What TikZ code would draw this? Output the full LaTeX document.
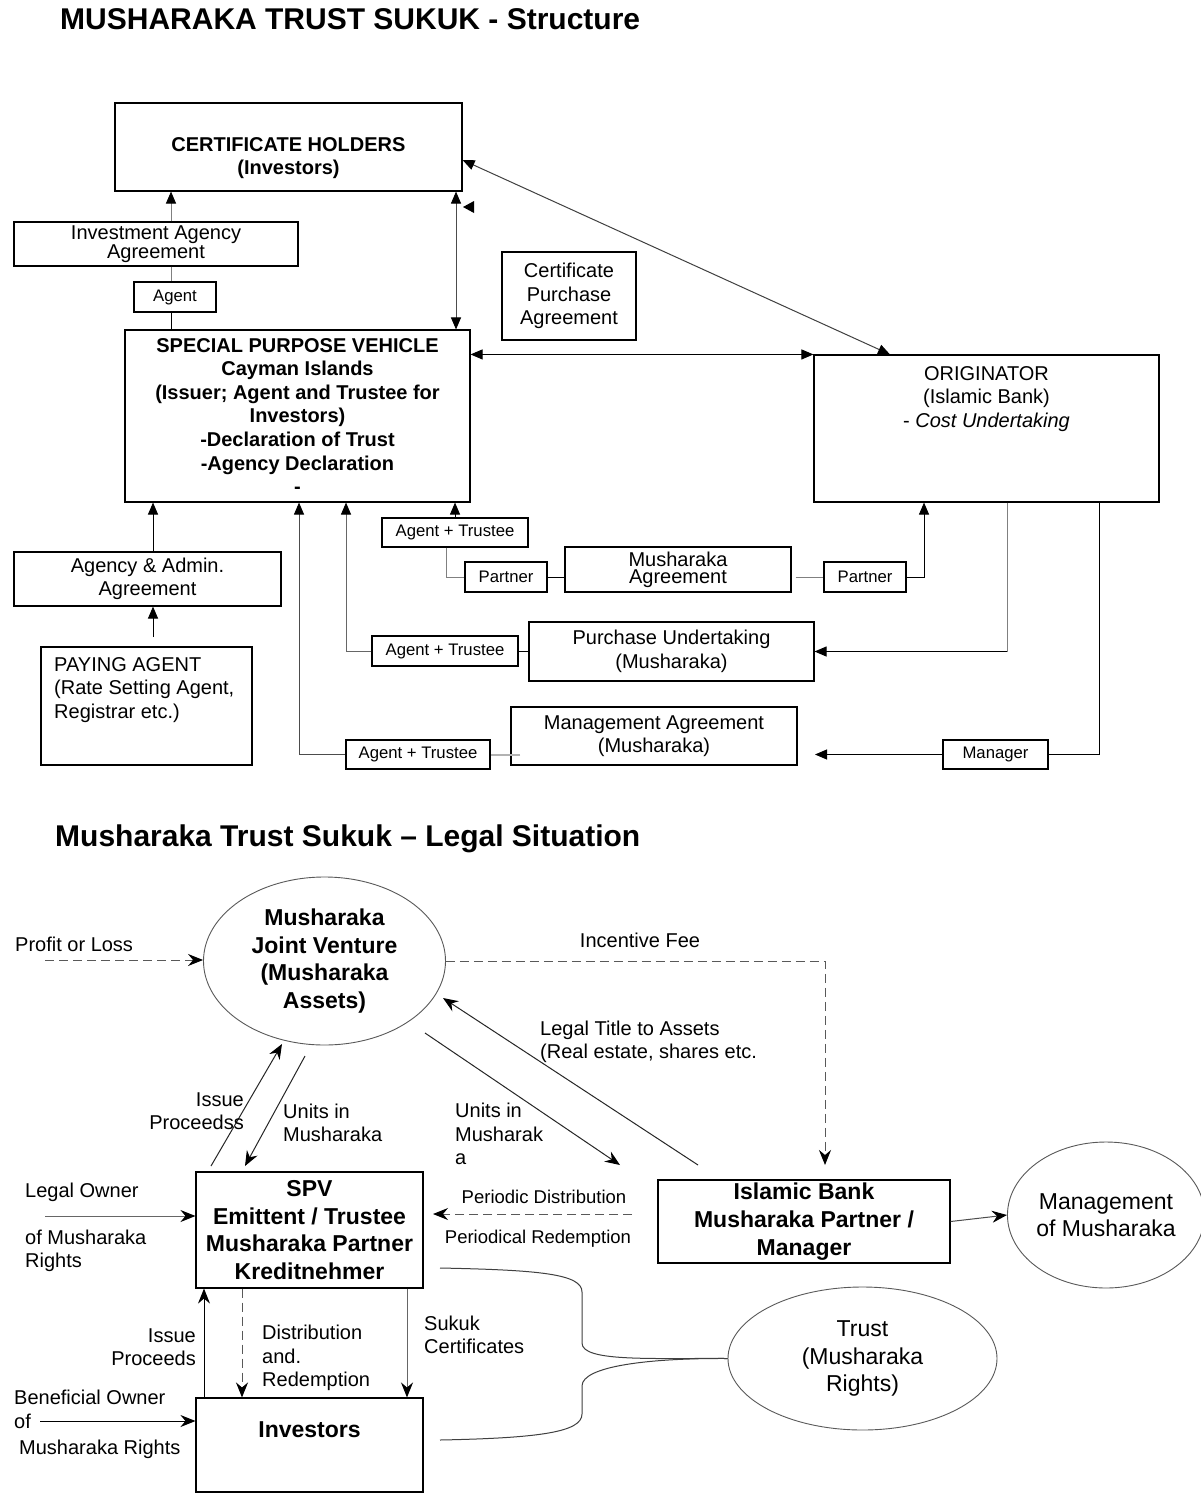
\documentclass[tikz,border=0pt]{standalone}
\usepackage{fontspec}
\setmainfont{Liberation Sans}
\usetikzlibrary{arrows.meta,shapes.geometric}
\newcommand{\ftitle}{\fontsize{30}{36}\selectfont\bfseries}
\newcommand{\freg}{\fontsize{20}{23.5}\selectfont}
\newcommand{\ftight}{\fontsize{20}{17}\selectfont}
\newcommand{\fsmall}{\fontsize{16.7}{20}\selectfont}
\newcommand{\fspv}{\fontsize{20}{23.6}\selectfont\bfseries}
\newcommand{\fbig}{\fontsize{23}{27.7}\selectfont\bfseries}
\newcommand{\fmed}{\fontsize{23}{27.5}\selectfont}
\newcommand{\fper}{\fontsize{18.5}{22}\selectfont}
\begin{document}
\begin{tikzpicture}[x=1pt,y=-1pt,
 box/.style={draw=black,line width=1.1pt,inner sep=2pt,align=center,font=\freg},
 txt/.style={inner sep=0pt,font=\freg},
 tarr/.style={line width=1pt,-{Triangle[length=12pt,width=10pt,color=black]}},
 tboth/.style={line width=1pt,{Triangle[length=12pt,width=10pt,color=black]}-{Triangle[length=12pt,width=10pt,color=black]}},
 tline/.style={line width=1pt},
 glin/.style={line width=1pt,draw=black!50},
 sarr/.style={line width=1pt,-{Stealth[length=15pt,width=12pt,inset=5pt,color=black]}},
 dsarr/.style={sarr,dash pattern=on 9pt off 5pt,draw=black!65},
 ell/.style={ellipse,draw=black!65,line width=0.9pt,inner sep=0pt,align=center},
]
\fill[white] (0,0) rectangle (1201,1502);
\useasboundingbox (0,0) rectangle (1201,1502);

% ---------------- TOP: Structure ----------------
\node[txt,anchor=west,font=\ftitle] (title1) at (60,19) {MUSHARAKA TRUST SUKUK - Structure};

\node[box,minimum width=347pt,minimum height=88pt] (CH) at (288.5,147) {};
\node[txt,align=center,font=\fspv] (CHt) at (288.5,158) {CERTIFICATE HOLDERS\\(Investors)};

\node[box,font=\ftight,minimum width=284pt,minimum height=44pt] (IAA) at (156,244) {Investment Agency\\Agreement};
\node[box,font=\fsmall,minimum width=82pt,minimum height=30pt] (Agent) at (175,297) {Agent};

\node[box,font=\fspv,minimum width=345pt,minimum height=172pt] (SPV) at (297.5,416) {SPECIAL PURPOSE VEHICLE\\Cayman Islands\\(Issuer; Agent and Trustee for\\Investors)\\-Declaration of Trust\\-Agency Declaration\\-};

\node[box,minimum width=134pt,minimum height=88pt] (CPA) at (569,296) {Certificate\\Purchase\\Agreement};

\node[box,minimum width=345pt,minimum height=147pt] (ORIG) at (986.5,428.5) {};
\node[txt,align=center] (ORIGt) at (986.5,399) {ORIGINATOR\\(Islamic Bank)\\- \textit{Cost Undertaking}};

\node[box,minimum width=267pt,minimum height=54pt] (AAA) at (147.5,579) {Agency \& Admin.\\Agreement};
\node[box,minimum width=211pt,minimum height=118pt] (PA) at (146.5,706) {};
\node[txt,align=left,anchor=west] (PAt) at (54,690) {PAYING AGENT\\(Rate Setting Agent,\\Registrar etc.)};

\node[box,font=\fsmall,minimum width=146pt,minimum height=29pt] (AT1) at (455,532.5) {Agent + Trustee};
\node[box,font=\fsmall,minimum width=82pt,minimum height=30pt] (P1) at (506,577) {Partner};
\node[box,font=\ftight,minimum width=226pt,minimum height=45pt] (MA) at (678,569.5) {Musharaka\\Agreement};
\node[box,font=\fsmall,minimum width=82pt,minimum height=30pt] (P2) at (865,577) {Partner};
\node[box,font=\fsmall,minimum width=146pt,minimum height=30pt] (AT2) at (445,651) {Agent + Trustee};
\node[box,minimum width=285pt,minimum height=59pt] (PU) at (671.5,651.5) {Purchase Undertaking\\(Musharaka)};
\node[box,font=\fsmall,minimum width=144pt,minimum height=29pt] (AT3) at (418,754.5) {Agent + Trustee};
\node[box,minimum width=286pt,minimum height=58pt] (MgA) at (654,736) {Management Agreement\\(Musharaka)};
\node[box,font=\fsmall,minimum width=105pt,minimum height=29pt] (Mgr) at (995.5,754.5) {Manager};

\coordinate (x171) at (171,0);
\coordinate (x456) at (456,0);
\coordinate (x890) at (890,0);
\coordinate (x153) at (153,0);
\coordinate (x446) at (446,0);
\coordinate (x924) at (924,0);
\coordinate (x1007) at (1007,0);
\coordinate (x346) at (346,0);
\coordinate (x1099) at (1099,0);
\coordinate (x815) at (815,0);
\coordinate (x520) at (520,0);
\coordinate (x299) at (299,0);
\coordinate (paTop) at (153,637);

\draw[tarr,draw=black!50] (IAA.north -| x171) -- (CH.south -| x171);
\draw[glin] (IAA.south -| x171) -- (Agent.north -| x171);
\draw[tline] (Agent.south -| x171) -- (SPV.north -| x171);
\draw[tboth,draw=black!70] (CH.south -| x456) -- (SPV.north -| x456);
\fill (463,207) -- (474,201) -- (474,213) -- cycle;
\draw[tboth,draw=black!75] (ORIG.north -| x890) -- ([yshift=-13pt]CH.east);
\draw[tboth] (SPV.east |- ORIG.north west) -- (ORIG.north west);
\draw[tarr] (AAA.north -| x153) -- (SPV.south -| x153);
\draw[tarr] (paTop) -- (paTop |- AAA.south);
\draw[tarr] (AT1.north) -- (AT1.north |- SPV.south);
\draw[glin] (AT1.south -| x446) -- (x446 |- P1.west) -- (P1.west);
\draw[tline] (P1.east) -- (MA.west |- P1.east);
\draw[glin] ([xshift=4pt]MA.east |- P2.west) -- (P2.west);
\draw[tarr] (P2.east) -- (x924 |- P2.east) -- (x924 |- ORIG.south);
\draw[glin] (ORIG.south -| x1007) -- (x1007 |- PU.east);
\draw[tarr] (x1007 |- PU.east) -- (PU.east);
\draw[tline] (AT2.east) -- (PU.west |- AT2.east);
\draw[tarr,draw=black!60] (AT2.west) -- (x346 |- AT2.west) -- (x346 |- SPV.south);
\draw[tline] (ORIG.south -| x1099) -- (x1099 |- Mgr.east) -- (Mgr.east);
\draw[tarr] (Mgr.west) -- (x815 |- Mgr.west);
\draw[glin,line width=2pt,draw=black!30] (x520 |- AT3.east) -- (AT3.east);
\draw[tarr,draw=black!70] (AT3.west) -- (x299 |- AT3.west) -- (x299 |- SPV.south);

% ---------------- BOTTOM: Legal Situation ----------------
\node[txt,anchor=west,font=\ftitle] (title2) at (55,839) {Musharaka Trust Sukuk – Legal Situation};

\node[ell,font=\fbig,minimum width=242pt,minimum height=168pt] (MJV) at (324.5,961) {Musharaka\\Joint Venture\\(Musharaka\\Assets)};

\node[txt,anchor=west] (pol) at (15,944) {Profit or Loss};
\coordinate (pl0) at (45,960);
\draw[dsarr] (pl0) -- (pl0 -| MJV.west);

\node[txt] (inc) at (640,940) {Incentive Fee};
\coordinate (x825) at (825,0);
\coordinate (ib0) at (825,1165);
\draw[dsarr] (MJV.east) -- (MJV.east -| x825) -- (ib0);

\coordinate (lt0) at (698,1165);
\coordinate (lt1) at (443,998);
\draw[sarr,draw=black!85] (lt0) -- (lt1);
\node[txt,anchor=west,align=left] (ltl) at (540,1042) {Legal Title to Assets\\(Real estate, shares etc.};

\coordinate (u0) at (425,1033);
\coordinate (u1) at (620,1165);
\draw[sarr,draw=black!85] (u0) -- (u1);
\node[txt,anchor=west,align=left] (uml) at (455,1134) {Units in\\Musharak\\a};

\coordinate (ip0) at (211,1166);
\coordinate (ip1) at (282,1044);
\draw[sarr,draw=black!85] (ip0) -- (ip1);
\node[txt,anchor=east,align=right] (ipl) at (244,1111) {Issue\\Proceedss};

\coordinate (ul0) at (305,1056);
\coordinate (ul1) at (245,1166);
\draw[sarr,draw=black!85] (ul0) -- (ul1);
\node[txt,anchor=west,align=left] (ull) at (283,1123) {Units in\\Musharaka};

\node[box,font=\fbig,minimum width=227pt,minimum height=116pt] (SPV2) at (309.5,1230) {SPV\\Emittent / Trustee\\Musharaka Partner\\Kreditnehmer};

\node[txt,anchor=west] (lo) at (25,1192) {Legal Owner};
\coordinate (lo0) at (45,1216);
\draw[sarr,draw=black!60] (lo0) -- (lo0 -| SPV2.west);
\node[txt,anchor=west,align=left] (lor) at (25,1251) {of Musharaka\\Rights};

\node[box,font=\fbig,minimum width=292pt,minimum height=83pt] (IB) at (804,1221.5) {Islamic Bank\\Musharaka Partner /\\Manager};

\coordinate (pd0) at (632,1214);
\coordinate (pd1) at (433,1214);
\draw[dsarr] (pd0) -- (pd1);
\node[txt,font=\fper] (pdl) at (544,1197) {Periodic Distribution};
\node[txt,font=\fper] (prl) at (538,1239) {Periodical Redemption};

\node[ell,font=\fmed,minimum width=182pt,minimum height=146pt] (Mgmt) at (1106,1215) {Management\\of Musharaka};
\draw[sarr,draw=black!70] (IB.east) -- (Mgmt.west);

\node[box,minimum width=227pt,minimum height=94pt] (Inv) at (309.5,1445) {};
\node[txt,font=\fbig] (Invt) at (309.5,1430) {Investors};

\coordinate (x204) at (204,0);
\coordinate (x242) at (242,0);
\coordinate (x407) at (407,0);
\draw[sarr] (Inv.north -| x204) -- (SPV2.south -| x204);
\node[txt,anchor=east,align=right] (ip2) at (196,1347) {Issue\\Proceeds};
\draw[dsarr] (SPV2.south -| x242) -- (Inv.north -| x242);
\node[txt,anchor=west,align=left] (drl) at (262,1358) {Distribution\\and.\\Redemption};
\draw[sarr,draw=black!60] (SPV2.south -| x407) -- (Inv.north -| x407);
\node[txt,anchor=west,align=left] (skl) at (424,1335) {Sukuk\\Certificates};

\node[txt,anchor=west] (bo1) at (14,1397) {Beneficial Owner};
\node[txt,anchor=west] (bo2) at (14,1421) {of};
\coordinate (bo0) at (40,1421);
\draw[sarr] (bo0) -- (bo0 -| Inv.west);
\node[txt,anchor=west] (bo3) at (19,1449) {Musharaka Rights};

\node[ell,font=\fmed,minimum width=269pt,minimum height=143pt] (Trust) at (862.5,1358.5) {Trust\\(Musharaka\\Rights)};

\coordinate (br1) at (440,1268);
\coordinate (br2) at (440,1440);
\coordinate (br) at (Trust.west);
\draw[line width=1pt,draw=black!75] (br1) .. controls (540,1270) and (582,1274) .. (582,1292) -- (582,1343) .. controls (582,1362) and (650,1358) .. (br);
\draw[line width=1pt,draw=black!75] (br2) .. controls (540,1438) and (582,1432) .. (582,1414) -- (582,1386) .. controls (582,1366) and (650,1358) .. (br);
\end{tikzpicture}
\end{document}
